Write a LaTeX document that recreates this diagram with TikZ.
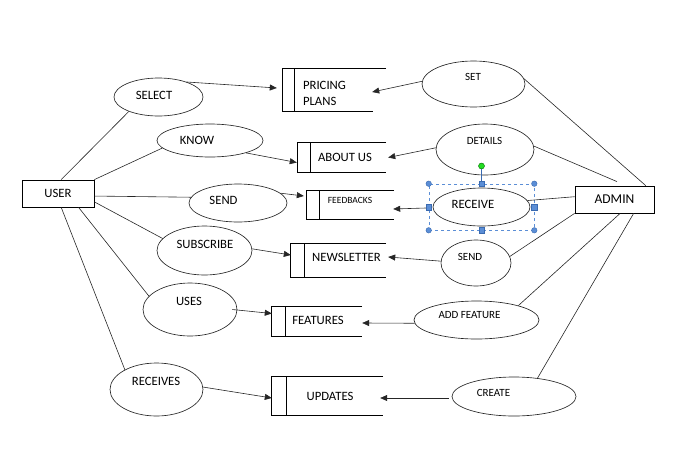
\documentclass[tikz,border=0pt]{standalone}
\usepackage{fontspec}
\setmainfont{Carlito}
\usetikzlibrary{shapes.geometric,arrows.meta,calc}
\definecolor{selblue}{HTML}{5B8ED6}
\definecolor{seledge}{HTML}{3A6AB0}
\definecolor{hgreen}{HTML}{22DD22}
\begin{document}
\begin{tikzpicture}[x=1pt,y=-1pt,
  ell/.style={ellipse, draw=black!85, line width=0.65pt, inner sep=0},
  ebox/.style={rectangle, draw=black, line width=0.8pt, inner sep=0},
  sbox/.style={rectangle, inner sep=0},
  lbl/.style={font=\fontsize{12.7}{16}\selectfont, inner sep=0},
  slbl/.style={font=\fontsize{11}{12}\selectfont, inner sep=0},
  ln/.style={draw=black!85, line width=0.6pt},
  arr/.style={ln, -{Triangle[length=7pt,width=6pt]}},
  stline/.style={draw=black, line width=0.8pt},
  selrect/.style={rectangle, draw=selblue, dashed, line width=0.6pt, inner sep=0},
  hcirc/.style={circle, fill=selblue, draw=seledge, line width=0.4pt, minimum size=5.5pt, inner sep=0},
  hsq/.style={rectangle, fill=selblue, draw=seledge, line width=0.4pt, minimum size=5.5pt, inner sep=0},
  hgr/.style={circle, fill=hgreen, draw=black!60!green, line width=0.4pt, minimum size=6pt, inner sep=0}
]
\useasboundingbox (0,0) rectangle (691,453);

% entity boxes
\node[ebox, minimum width=72, minimum height=27, font=\fontsize{12.7}{14}\selectfont] (user) at (58,193.5) {USER};
\node[ebox, minimum width=79, minimum height=27, font=\fontsize{13.5}{15}\selectfont] (admin) at (614.5,199.5) {ADMIN};

% data stores (open boxes)
\node[sbox, minimum width=103, minimum height=42] (pp) at (334.5,90) {};
\node[sbox, minimum width=88, minimum height=29] (au) at (342,157.5) {};
\node[sbox, minimum width=87, minimum height=28] (fb) at (350.5,205) {};
\node[sbox, minimum width=95, minimum height=33] (nl) at (338.5,260.5) {};
\node[sbox, minimum width=90, minimum height=29] (ft) at (317,321.5) {};
\node[sbox, minimum width=111, minimum height=38] (up) at (327.5,396) {};

\draw[stline] (pp.north east) -- (pp.north west) -- (pp.south west) -- ([xshift=-13pt]pp.south east);
\draw[stline] ([xshift=12pt]pp.north west) -- ([xshift=12pt]pp.south west);
\foreach \s/\o in {au/13pt, fb/13pt, nl/14pt, ft/14pt, up/15pt}{
  \draw[stline] (\s.north east) -- (\s.north west) -- (\s.south west) -- (\s.south east);
  \draw[stline] ([xshift=\o]\s.north west) -- ([xshift=\o]\s.south west);
}

\node[lbl, align=left] (ppT) at (324.5,93) {PRICING\\PLANS};
\node[lbl] (auT) at (345,157) {ABOUT US};
\node[font=\fontsize{9.5}{10}\selectfont, inner sep=0] (fbT) at (350,200) {FEEDBACKS};
\node[lbl] (nlT) at (346.5,257) {NEWSLETTER};
\node[lbl] (ftT) at (318,320) {FEATURES};
\node[lbl] (upT) at (330,396) {UPDATES};

% user-side ellipses
\node[ell, minimum width=89, minimum height=38] (sel) at (158.5,97) {};
\node[lbl] (selT) at (154,95) {SELECT};
\node[ell, minimum width=106, minimum height=33] (know) at (210,140.5) {};
\node[lbl] (knowT) at (197,140.5) {KNOW};
\node[ell, minimum width=98, minimum height=38] (sendA) at (238,203) {};
\node[lbl] (sendAT) at (223.5,200) {SEND};
\node[ell, minimum width=95, minimum height=49] (subs) at (204.5,250.5) {};
\node[lbl] (subsT) at (205,244) {SUBSCRIBE};
\node[ell, minimum width=94, minimum height=53] (uses) at (190,309.5) {};
\node[lbl] (usesT) at (189,301) {USES};
\node[ell, minimum width=93, minimum height=53] (rcvs) at (156.5,389.5) {};
\node[lbl] (rcvsT) at (156,381) {RECEIVES};

% admin-side ellipses
\node[ell, minimum width=103, minimum height=46] (set) at (473.5,84) {};
\node[slbl] (setT) at (473,77) {SET};
\node[ell, minimum width=98, minimum height=51] (det) at (485,149.5) {};
\node[slbl] (detT) at (484.5,141) {DETAILS};
\node[ell, minimum width=97, minimum height=38] (rec) at (481.5,207) {};
\node[lbl] (recT) at (473,204) {RECEIVE};
\node[ell, minimum width=70, minimum height=46] (sendB) at (476,263) {};
\node[slbl] (sendBT) at (470,257) {SEND};
\node[ell, minimum width=125, minimum height=38] (addf) at (476.5,320) {};
\node[slbl] (addfT) at (469.5,315) {ADD FEATURE};
\node[ell, minimum width=124, minimum height=39] (crt) at (514,396.5) {};
\node[slbl] (crtT) at (493.5,393) {CREATE};

% user connectors
\draw[ln] (user.77) -- (sel.206);
\draw[ln] (user.north east) -- (know.189);
\draw[ln] (user.-4) -- (sendA.173);
\draw[ln] (user.-13) -- (subs.164);
\draw[ln] (user.-34) -- (uses.162);
\draw[ln] (user.-77) -- (rcvs.148);

% arrows into stores (left)
\draw[arr] (sel.28) -- ($(pp.west)+(-6,-2)$);
\draw[arr] (know.-19) -- ($(au.west)+(-1,5)$);
\draw[arr] (sendA.13) -- ($(fb.west)+(-3,-9)$);
\draw[arr] (subs.2) -- ($(nl.west)+(0,-5.5)$);
\draw[arr] ([xshift=-5pt]uses.east) -- ($(ft.west)+(0,-8)$);
\draw[arr] (rcvs.3) -- ($(up.west)+(0,2)$);

% selection frame around RECEIVE
\node[selrect, minimum width=105, minimum height=46] (selb) at (481.5,207) {};
\node[hgr] (hG) at (481.5,166) {};
\draw[draw=seledge, line width=0.6pt] (hG.south) -- ([yshift=3pt]selb.north);
\node[hcirc] (hNW) at (selb.north west) {};
\node[hcirc] (hNE) at (selb.north east) {};
\node[hcirc] (hSW) at (selb.south west) {};
\node[hcirc] (hSE) at (selb.south east) {};
\node[hsq] (hN) at (selb.north) {};
\node[hsq] (hS) at (selb.south) {};
\node[hsq] (hW) at (selb.west) {};
\node[hsq] (hE) at (selb.east) {};

% arrows into stores (right)
\draw[arr] (set.177) -- ($(pp.east)+(-14,2)$);
\draw[arr] (det.178) -- ($(au.east)+(2,0)$);
\draw[arr] ([yshift=-1pt]hW.west) -- ($(fb.east)+(-1,4)$);
\draw[arr] (sendB.177) -- ($(nl.east)+(2,-3.5)$);
\draw[arr] (addf.183) -- ($(ft.east)+(0,1.5)$);
\draw[arr] ([xshift=-3pt,yshift=-1.5pt]crt.west) -- ($(up.east)+(-3,2)$);

% admin connectors
\draw[ln] (set.6) -- (admin.24.6);
\draw[ln] (det.4) -- ($(admin.north)+(2.5,-4)$);
\draw[ln] (rec.8) -- (admin.176);
\draw[ln] (sendB.11) -- (admin.south west);
\draw[ln] (addf.19) -- (admin.-68);
\draw[ln] (crt.38) -- (admin.-36);
\end{tikzpicture}
\end{document}
